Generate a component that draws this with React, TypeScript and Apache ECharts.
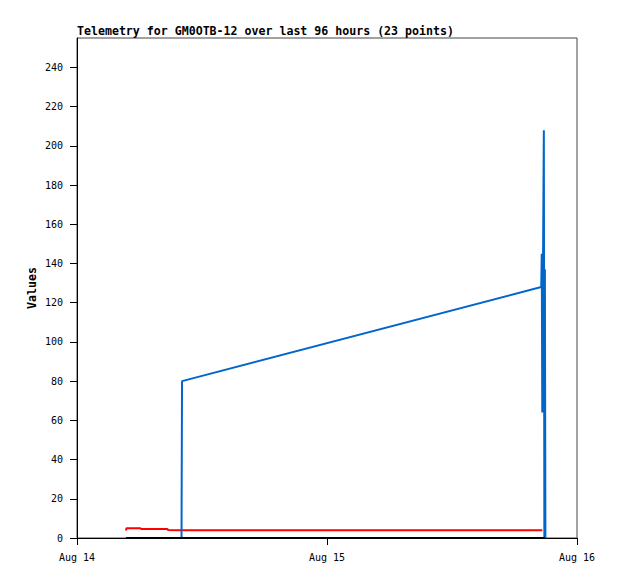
import React, { useEffect, useRef } from "react";
import * as echarts from "echarts";

const titleText = "Telemetry for GM0OTB-12 over last 96 hours (23 points)";
const yAxisName = "Values";

const times = [
  "2024-08-14T04:42:00Z",
  "2024-08-14T04:45:00Z",
  "2024-08-14T06:06:00Z",
  "2024-08-14T06:09:00Z",
  "2024-08-14T08:41:00Z",
  "2024-08-14T08:44:00Z",
  "2024-08-14T10:02:00Z",
  "2024-08-14T10:05:00Z",
  "2024-08-15T20:34:00Z",
  "2024-08-15T20:37:00Z",
  "2024-08-15T20:40:00Z",
  "2024-08-15T20:44:00Z",
  "2024-08-15T20:49:00Z",
  "2024-08-15T20:52:00Z",
  "2024-08-15T20:55:00Z",
  "2024-08-15T20:58:00Z",
];

const blueValues = [0, 0, 0, 0, 0, 0, 0, 80, 128, 145, 64, 137, 208, 0, 137, 0];
const redValues = [3.8, 5.0, 5.0, 4.6, 4.6, 4.1, 4.0, 4.0, 4.0, 4.0, 4.0, null, null, null, null, null];
const blackValues = [0, 0, 0, 0, 0, 0, 0, 0, 0, 0, 0, 0, 0, 0, 0, 0];

const xStart = "2024-08-14T00:00:00Z";
const xEnd = "2024-08-16T00:00:00Z";
const xTickTimes = ["2024-08-14T00:00:00Z", "2024-08-15T00:00:00Z", "2024-08-16T00:00:00Z"];
const xTickLabels = ["Aug 14", "Aug 15", "Aug 16"];
const yTicks = [0, 20, 40, 60, 80, 100, 120, 140, 160, 180, 200, 220, 240];
const yMax = 255;

const FONT = "'DejaVu Sans Mono', 'Liberation Mono', monospace";

export default function App() {
  const ref = useRef<HTMLDivElement>(null);
  useEffect(() => {
    document.body.style.margin = "0";
    if (!ref.current) return;
    const chart = echarts.init(ref.current, undefined, { renderer: "svg" });
    const xs = times.map((t) => Date.parse(t));
    const toPairs = (vals: (number | null)[]) =>
      xs.map((x, i) => [x, vals[i]]).filter((p) => p[1] !== null);
    const xTickVals = xTickTimes.map((t) => Date.parse(t));
    chart.setOption({
      animation: false,
      backgroundColor: "#ffffff",
      title: {
        text: titleText,
        left: 77,
        top: 25,
        padding: 0,
        textStyle: { fontFamily: FONT, fontSize: 11.6, fontWeight: "bold", color: "#000" },
      },
      grid: {
        left: 77,
        right: 41,
        top: 38,
        bottom: 41,
        show: true,
        borderColor: "#444",
        borderWidth: 1,
        backgroundColor: "transparent",
      },
      xAxis: {
        type: "value",
        min: Date.parse(xStart),
        max: Date.parse(xEnd),
        axisLine: { show: true, lineStyle: { color: "#000", width: 1 } },
        axisTick: { show: true, length: 7, inside: false, customValues: xTickVals, lineStyle: { color: "#000" } },
        axisLabel: {
          customValues: xTickVals,
          margin: 14,
          fontFamily: FONT,
          fontSize: 10,
          color: "#000",
          formatter: (v: number) => {
            const i = xTickVals.indexOf(v);
            return i >= 0 ? xTickLabels[i] : "";
          },
        },
        splitLine: { show: false },
      },
      yAxis: {
        type: "value",
        min: 0,
        max: yMax,
        name: yAxisName,
        nameLocation: "middle",
        nameGap: 39,
        nameMoveOverlap: false,
        nameTextStyle: { fontFamily: FONT, fontSize: 11.6, fontWeight: "bold", color: "#000" },
        axisLine: { show: true, lineStyle: { color: "#000", width: 1 } },
        axisTick: { show: true, length: 7, inside: false, customValues: yTicks, lineStyle: { color: "#000" } },
        axisLabel: {
          customValues: yTicks,
          margin: 14,
          fontFamily: FONT,
          fontSize: 10,
          color: "#000",
        },
        splitLine: { show: false },
      },
      series: [
        {
          type: "line",
          data: toPairs(redValues),
          showSymbol: false,
          symbol: "none",
          lineStyle: { color: "#ff0000", width: 2 },
          z: 2,
        },
        {
          type: "line",
          data: toPairs(blueValues),
          showSymbol: false,
          symbol: "none",
          lineStyle: { color: "#0066cc", width: 2 },
          z: 3,
        },
        {
          type: "line",
          data: toPairs(blackValues),
          showSymbol: false,
          symbol: "none",
          lineStyle: { color: "#000000", width: 2 },
          z: 4,
        },
      ],
    });
    return () => chart.dispose();
  }, []);
  return <div ref={ref} style={{ width: 618, height: 579 }} />;
}
